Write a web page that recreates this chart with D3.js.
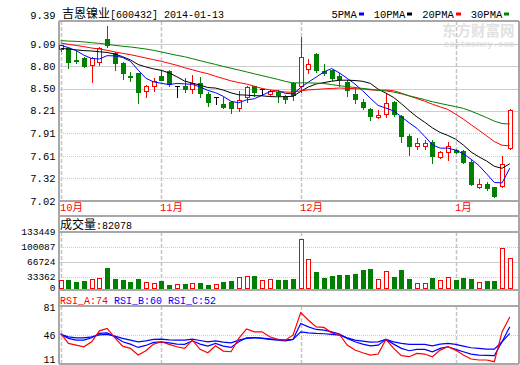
<!DOCTYPE html>
<html>
<head>
<meta charset="utf-8">
<script src="https://cdn.jsdelivr.net/npm/d3@7"></script>
<style>
  body { margin: 0; background: #fff; }
  svg { display: block; }
  text { font-family: "Liberation Mono", "Noto Sans CJK SC", monospace; }
</style>
</head>
<body>
<script>
/**********************/
/******* data         */
/**********************/

const stockName = "吉恩镍业";
const stockCode = "600432";
const dateLabel = "2014-01-13";

const opens = [9.02, 9.03, 8.87, 8.90, 8.81, 8.85, 9.15, 8.97, 8.84, 8.66,
    8.70, 8.47, 8.54, 8.66, 8.73, 8.54, 8.54, 8.50, 8.58, 8.43,
    8.39, 8.30, 8.33, 8.25, 8.39, 8.53, 8.49, 8.43, 8.46, 8.39,
    8.58, 8.53, 8.76, 8.96, 8.73, 8.74, 8.67, 8.59, 8.43, 8.33,
    8.23, 8.13, 8.17, 8.33, 8.14, 7.88, 7.74, 7.74, 7.80, 7.60,
    7.66, 7.69, 7.68, 7.54, 7.20, 7.24, 7.20, 7.22, 7.72];
const highs = [9.08, 9.05, 8.99, 8.91, 8.91, 9.05, 9.32, 8.98, 8.85, 8.72,
    8.71, 8.55, 8.64, 8.75, 8.75, 8.54, 8.64, 8.68, 8.65, 8.46,
    8.39, 8.39, 8.34, 8.47, 8.53, 8.54, 8.49, 8.48, 8.48, 8.42,
    8.59, 9.18, 8.89, 8.97, 8.82, 8.75, 8.70, 8.61, 8.50, 8.36,
    8.25, 8.22, 8.44, 8.34, 8.15, 7.90, 7.85, 7.82, 7.82, 7.68,
    7.80, 7.71, 7.69, 7.56, 7.31, 7.27, 7.21, 7.61, 8.23];
const lows = [9.00, 8.77, 8.84, 8.79, 8.59, 8.81, 9.05, 8.75, 8.63, 8.60,
    8.31, 8.39, 8.47, 8.61, 8.54, 8.39, 8.46, 8.44, 8.39, 8.27,
    8.30, 8.25, 8.18, 8.21, 8.33, 8.40, 8.42, 8.42, 8.33, 8.31,
    8.35, 8.46, 8.70, 8.72, 8.68, 8.61, 8.53, 8.40, 8.31, 8.23,
    8.09, 8.11, 8.13, 8.14, 7.80, 7.63, 7.71, 7.71, 7.52, 7.58,
    7.56, 7.65, 7.52, 7.23, 7.19, 7.17, 7.07, 7.21, 7.70];
const closes = [9.07, 8.85, 8.86, 8.80, 8.90, 9.04, 9.07, 8.84, 8.70, 8.65,
    8.46, 8.53, 8.60, 8.61, 8.56, 8.54, 8.50, 8.57, 8.44, 8.33,
    8.39, 8.26, 8.24, 8.35, 8.52, 8.46, 8.49, 8.47, 8.41, 8.36,
    8.42, 8.91, 8.83, 8.74, 8.70, 8.64, 8.62, 8.48, 8.36, 8.26,
    8.14, 8.15, 8.31, 8.17, 7.88, 7.74, 7.79, 7.78, 7.61, 7.66,
    7.74, 7.66, 7.54, 7.25, 7.25, 7.19, 7.09, 7.51, 8.22];
const volumes = [24300, 24300, 17300, 19900, 27700, 29600, 55700, 27700, 24300, 19100,
    27000, 18300, 15700, 19900, 11300, 13100, 13900, 15700, 16500, 11300,
    13900, 17300, 21700, 31400, 34000, 34800, 24300, 26200, 24300, 24300,
    27000, 133449, 78500, 45300, 29600, 34800, 37400, 37400, 40000, 50500,
    53100, 26200, 47900, 32200, 50500, 27000, 15700, 15700, 29600, 24300,
    31400, 24300, 29600, 27000, 18300, 19900, 19900, 107300, 82078];

// moving-average values before a full window of closes is on the chart
const ma5Lead = [9.07, 9.04, 9.00, 8.94];
const ma10Lead = [9.03, 9.02, 9.01, 9.00, 8.995, 8.985, 8.975, 8.955, 8.92];
const ma20Lead = [9.10, 9.083, 9.068, 9.052, 9.034, 9.021, 9.004, 8.982, 8.964, 8.947,
    8.925, 8.903, 8.881, 8.859, 8.833, 8.807, 8.775, 8.748, 8.72];
const ma30Lead = [9.131, 9.126, 9.122, 9.115, 9.104, 9.096, 9.083, 9.07, 9.057, 9.048,
    9.035, 9.021, 9.004, 8.982, 8.96, 8.938, 8.92, 8.894, 8.868, 8.842,
    8.818, 8.792, 8.768, 8.745, 8.72, 8.695, 8.67, 8.647, 8.622];

const rsiA = [47.9, 35.9, 33.8, 31.8, 37.8, 51.0, 53.9, 42.6, 32.6, 29.9,
    21.8, 27.0, 35.0, 37.8, 34.7, 31.8, 29.9, 39.8, 28.7, 24.6,
    33.0, 26.6, 25.8, 41.9, 53.4, 49.8, 49.8, 43.8, 40.7, 39.8,
    45.8, 73.1, 63.8, 55.8, 55.1, 48.6, 46.7, 33.8, 27.8, 24.6,
    21.8, 23.0, 40.7, 29.9, 21.0, 19.8, 23.8, 23.0, 19.8, 27.8,
    31.8, 27.8, 21.8, 17.0, 15.8, 15.8, 13.8, 49.8, 67.8];
const rsiB = [47.0, 41.9, 39.8, 39.8, 42.6, 47.9, 48.6, 43.8, 37.8, 35.0,
    31.0, 33.4, 37.0, 37.8, 36.6, 35.0, 34.7, 39.0, 35.0, 32.6,
    35.9, 32.6, 31.0, 37.8, 42.6, 43.0, 41.9, 40.7, 39.8, 39.0,
    40.7, 59.9, 55.8, 52.7, 51.8, 49.8, 47.0, 41.9, 37.8, 35.0,
    33.0, 33.8, 40.7, 35.0, 29.9, 27.0, 28.7, 28.7, 25.8, 29.9,
    31.8, 28.7, 25.8, 23.0, 21.8, 21.4, 21.0, 37.8, 55.8];
const rsiC = [46.7, 43.8, 42.6, 42.6, 43.8, 46.2, 46.7, 44.6, 41.9, 39.8,
    37.8, 39.0, 40.7, 41.0, 40.2, 39.8, 39.8, 41.0, 39.4, 37.8,
    39.0, 37.4, 36.6, 39.8, 41.9, 42.6, 42.2, 41.4, 40.7, 39.8,
    40.7, 49.8, 48.6, 47.9, 47.5, 46.7, 45.8, 42.6, 39.8, 38.6,
    37.4, 37.8, 40.7, 37.8, 35.9, 34.7, 34.7, 34.7, 33.0, 35.0,
    35.9, 34.7, 32.6, 30.6, 29.9, 29.0, 29.0, 37.8, 47.9];
const rsiLabels = ["RSI_A:74", "RSI_B:60", "RSI_C:52"];

const priceTicks = [9.39, 9.09, 8.80, 8.50, 8.21, 7.91, 7.61, 7.32, 7.02];
const volTicks = [0, 33362, 66724, 100087, 133449];
const rsiTicks = [11, 46, 81];
const monthIndex = [0, 13, 31, 51];
const monthLabels = ["10月", "11月", "12月", "1月"];
const maNames = ["5PMA", "10PMA", "20PMA", "30PMA"];
const maColors = ["#0000ff", "#000000", "#ff0000", "#008000"];

/**********************/
/******* layout       */
/**********************/

const W = 520, H = 365;
const left = 59, right = 519;
const mainTop = 21, mainBottom = 201;
const volHead = 216, volTop = 232, volBottom = 290;
const rsiTop = 306, rsiBottom = 364;
const n = closes.length;
const UP = "#ff0000", DOWN = "#008000", FRAME = "#a8a8a8", GRID = "#cccccc";

const svg = d3.select("body").append("svg")
    .attr("width", W)
    .attr("height", H);

const x = d3.scalePoint().domain(d3.range(n)).range([60.7, 509.8]);
const y = d3.scaleLinear().domain([7.02, 9.39]).range([mainBottom, mainTop]);
const yVol = d3.scaleLinear().domain([0, d3.max(volumes) * 1.13]).range([volBottom - 1, volTop]);
const yVolAxis = d3.scaleLinear().domain([0, d3.max(volTicks)]).range([volBottom + 2, volTop]);
const yRsi = d3.scaleLinear().domain([11, 81]).range([rsiBottom, rsiTop]);

const px = i => Math.round(x(i));
const snap = v => Math.round(v) + 0.5;
const candleColor = i => closes[i] > opens[i] ? UP : closes[i] < opens[i] ? DOWN : "#000";

function movingAvg(lead, period) {
    return closes.map((c, i) => i < lead.length
        ? lead[i]
        : d3.mean(closes.slice(i - period + 1, i + 1)));
}

const maSeries = [movingAvg(ma5Lead, 5), movingAvg(ma10Lead, 10),
    movingAvg(ma20Lead, 20), movingAvg(ma30Lead, 30)];

// watermark
svg.append("text")
    .attr("x", 442).attr("y", 36)
    .attr("font-family", "Noto Sans CJK SC")
    .attr("font-weight", "bold")
    .attr("font-size", 14.5)
    .attr("fill", "#e2e2e2")
    .text("东方财富网");
svg.append("text")
    .attr("x", 444).attr("y", 47)
    .attr("font-family", "Liberation Sans")
    .attr("font-weight", "bold")
    .attr("font-size", 9)
    .attr("fill", "#e2e2e2")
    .text("eastmoney.com");

/**********************/
/******* grid + frame */
/**********************/

function makeGrid() {
    const g = svg.append("g").attr("class", "grid");

    g.selectAll(".price-grid")
        .data(priceTicks.slice(1, -1))
        .enter()
        .append("line")
        .attr("x1", left).attr("x2", right)
        .attr("y1", d => snap(y(d))).attr("y2", d => snap(y(d)))
        .attr("stroke", GRID)
        .attr("stroke-dasharray", d => d < 8 ? "1,1" : null);

    g.selectAll(".vol-grid")
        .data(volTicks.slice(1, -1))
        .enter()
        .append("line")
        .attr("x1", left).attr("x2", right)
        .attr("y1", d => snap(yVolAxis(d))).attr("y2", d => snap(yVolAxis(d)))
        .attr("stroke", GRID)
        .attr("stroke-dasharray", (d, i) => i === 1 ? null : "1,1");

    g.append("line")
        .attr("x1", left).attr("x2", right)
        .attr("y1", snap(yRsi(46))).attr("y2", snap(yRsi(46)))
        .attr("stroke", GRID)
        .attr("stroke-dasharray", "1,1");

    const panels = [[mainTop, mainBottom], [volTop, volBottom], [rsiTop, rsiBottom]];
    panels.forEach(([t, b]) => {
        g.selectAll(null)
            .data(monthIndex)
            .enter()
            .append("line")
            .attr("x1", d => px(d) + 0.5).attr("x2", d => px(d) + 0.5)
            .attr("y1", t).attr("y2", b)
            .attr("stroke", "#c4c4c4")
            .attr("stroke-width", 1.5)
            .attr("stroke-dasharray", "4,2");
    });

    const frame = svg.append("g").attr("class", "frame")
        .attr("stroke", FRAME)
        .attr("stroke-width", 2);
    [mainTop, mainBottom, volHead, volTop, volBottom, rsiTop, rsiBottom].forEach(v => {
        frame.append("line").attr("x1", left).attr("x2", right).attr("y1", v).attr("y2", v);
    });
    [left, right].forEach(v => {
        frame.append("line").attr("x1", v).attr("x2", v).attr("y1", mainTop).attr("y2", rsiBottom);
    });
}

/**********************/
/******* axes labels  */
/**********************/

function makeLabels() {
    svg.selectAll(".price-label")
        .data(priceTicks)
        .enter()
        .append("text")
        .attr("x", 55.5)
        .attr("y", (d, i) => i === 0 ? y(d) - 2 : y(d))
        .attr("dy", (d, i) => i === 0 ? 0 : "0.36em")
        .attr("text-anchor", "end")
        .attr("font-size", 10.5)
        .text(d => d.toFixed(2));

    svg.selectAll(".vol-label")
        .data(volTicks)
        .enter()
        .append("text")
        .attr("x", 55.5)
        .attr("y", d => Math.min(yVolAxis(d), 287.5))
        .attr("dy", "0.36em")
        .attr("text-anchor", "end")
        .attr("font-family", "Liberation Sans")
        .attr("font-size", 9.5)
        .text(d => d);

    svg.selectAll(".rsi-label")
        .data(rsiTicks)
        .enter()
        .append("text")
        .attr("x", 55.5)
        .attr("y", d => Math.max(rsiTop + 1, Math.min(yRsi(d), rsiBottom - 5)))
        .attr("dy", "0.36em")
        .attr("text-anchor", "end")
        .attr("font-family", "Liberation Sans")
        .attr("font-size", 10)
        .text(d => d);

    svg.selectAll(".month-label")
        .data(monthIndex)
        .enter()
        .append("text")
        .attr("x", d => px(d) - 1)
        .attr("y", 211)
        .attr("font-size", 10.5)
        .attr("fill", "#ff0000")
        .text((d, i) => monthLabels[i]);

    // title
    const title = svg.append("text").attr("x", 62).attr("y", 17.5);
    title.append("tspan")
        .attr("font-family", "Noto Sans CJK SC")
        .attr("font-size", 12)
        .text(stockName);
    title.append("tspan")
        .attr("font-size", 10)
        .text(`[${stockCode}] ${dateLabel}`);

    // legend
    let cursor = 331.5;
    maNames.forEach((name, i) => {
        const t = svg.append("text")
            .attr("x", cursor).attr("y", 18)
            .attr("font-size", 10.5)
            .text(name);
        const w = t.node().getComputedTextLength();
        svg.append("rect")
            .attr("x", Math.round(cursor + w + 2)).attr("y", 12.5)
            .attr("width", 5).attr("height", 3)
            .attr("fill", maColors[i]);
        cursor = cursor + w + 17;
    });

    // volume header
    const vh = svg.append("text").attr("x", 60).attr("y", 229);
    vh.append("tspan")
        .attr("font-family", "Noto Sans CJK SC")
        .attr("font-size", 12)
        .text("成交量");
    vh.append("tspan")
        .attr("font-size", 10)
        .text(":" + volumes[n - 1]);

    // rsi header
    const rh = svg.append("text").attr("x", 60).attr("y", 303.5).attr("font-size", 10);
    rsiLabels.forEach((lab, i) => {
        rh.append("tspan")
            .attr("fill", i === 0 ? "#ff0000" : "#0000ff")
            .text((i ? " " : "") + lab);
    });
}

/**********************/
/******* candles      */
/**********************/

function makeCandles() {
    const g = svg.append("g").attr("class", "candles");
    const candle = g.selectAll("g")
        .data(d3.range(n))
        .enter()
        .append("g");

    candle.append("line")
        .attr("x1", i => px(i) + 0.5).attr("x2", i => px(i) + 0.5)
        .attr("y1", i => Math.round(y(highs[i])))
        .attr("y2", i => Math.round(y(lows[i])) + 1)
        .attr("stroke", candleColor);

    candle.filter(i => closes[i] !== opens[i])
        .append("rect")
        .attr("x", i => closes[i] > opens[i] ? px(i) - 1.5 : px(i) - 2)
        .attr("y", i => {
            const top = Math.round(y(Math.max(opens[i], closes[i])));
            return closes[i] > opens[i] ? top + 0.5 : top;
        })
        .attr("width", i => closes[i] > opens[i] ? 4 : 5)
        .attr("height", i => {
            const h = Math.round(y(Math.min(opens[i], closes[i]))) - Math.round(y(Math.max(opens[i], closes[i])));
            return closes[i] > opens[i] ? Math.max(1, h) : Math.max(1, h + 1);
        })
        .attr("fill", i => closes[i] > opens[i] ? "#fff" : DOWN)
        .attr("stroke", i => closes[i] > opens[i] ? UP : "none");

    candle.filter(i => closes[i] === opens[i])
        .append("line")
        .attr("x1", i => px(i) - 2).attr("x2", i => px(i) + 3)
        .attr("y1", i => snap(y(closes[i]))).attr("y2", i => snap(y(closes[i])))
        .attr("stroke", "#000");
}

function makeMovingAverages() {
    maSeries.forEach((values, k) => {
        const line = d3.line()
            .x((d, i) => x(i))
            .y(d => y(d));
        svg.append("path")
            .datum(values)
            .attr("fill", "none")
            .attr("stroke", maColors[k])
            .attr("stroke-width", 1)
            .attr("d", line);
    });
}

/**********************/
/******* volume + rsi */
/**********************/

function makeVolume() {
    svg.append("g").attr("class", "volume")
        .selectAll("rect")
        .data(volumes)
        .enter()
        .append("rect")
        .attr("x", (d, i) => closes[i] >= opens[i] ? px(i) - 1.5 : px(i) - 2)
        .attr("y", (d, i) => {
            const top = Math.round(yVol(d));
            return closes[i] >= opens[i] ? top + 0.5 : top;
        })
        .attr("width", (d, i) => closes[i] >= opens[i] ? 4 : 5)
        .attr("height", (d, i) => {
            const h = volBottom - 1 - Math.round(yVol(d));
            return closes[i] >= opens[i] ? h - 1 : h;
        })
        .attr("fill", (d, i) => closes[i] >= opens[i] ? "#fff" : DOWN)
        .attr("stroke", (d, i) => closes[i] >= opens[i] ? UP : "none");
}

function makeRsi() {
    const line = d3.line()
        .x((d, i) => x(i))
        .y(d => yRsi(d));
    [[rsiC, "#0000ff"], [rsiB, "#0000ff"], [rsiA, "#ff0000"]].forEach(([values, color]) => {
        svg.append("path")
            .datum(values)
            .attr("fill", "none")
            .attr("stroke", color)
            .attr("stroke-width", 1.2)
            .attr("d", line);
    });
}

makeGrid();
makeCandles();
makeMovingAverages();
makeVolume();
makeRsi();
makeLabels();
</script>
</body>
</html>
